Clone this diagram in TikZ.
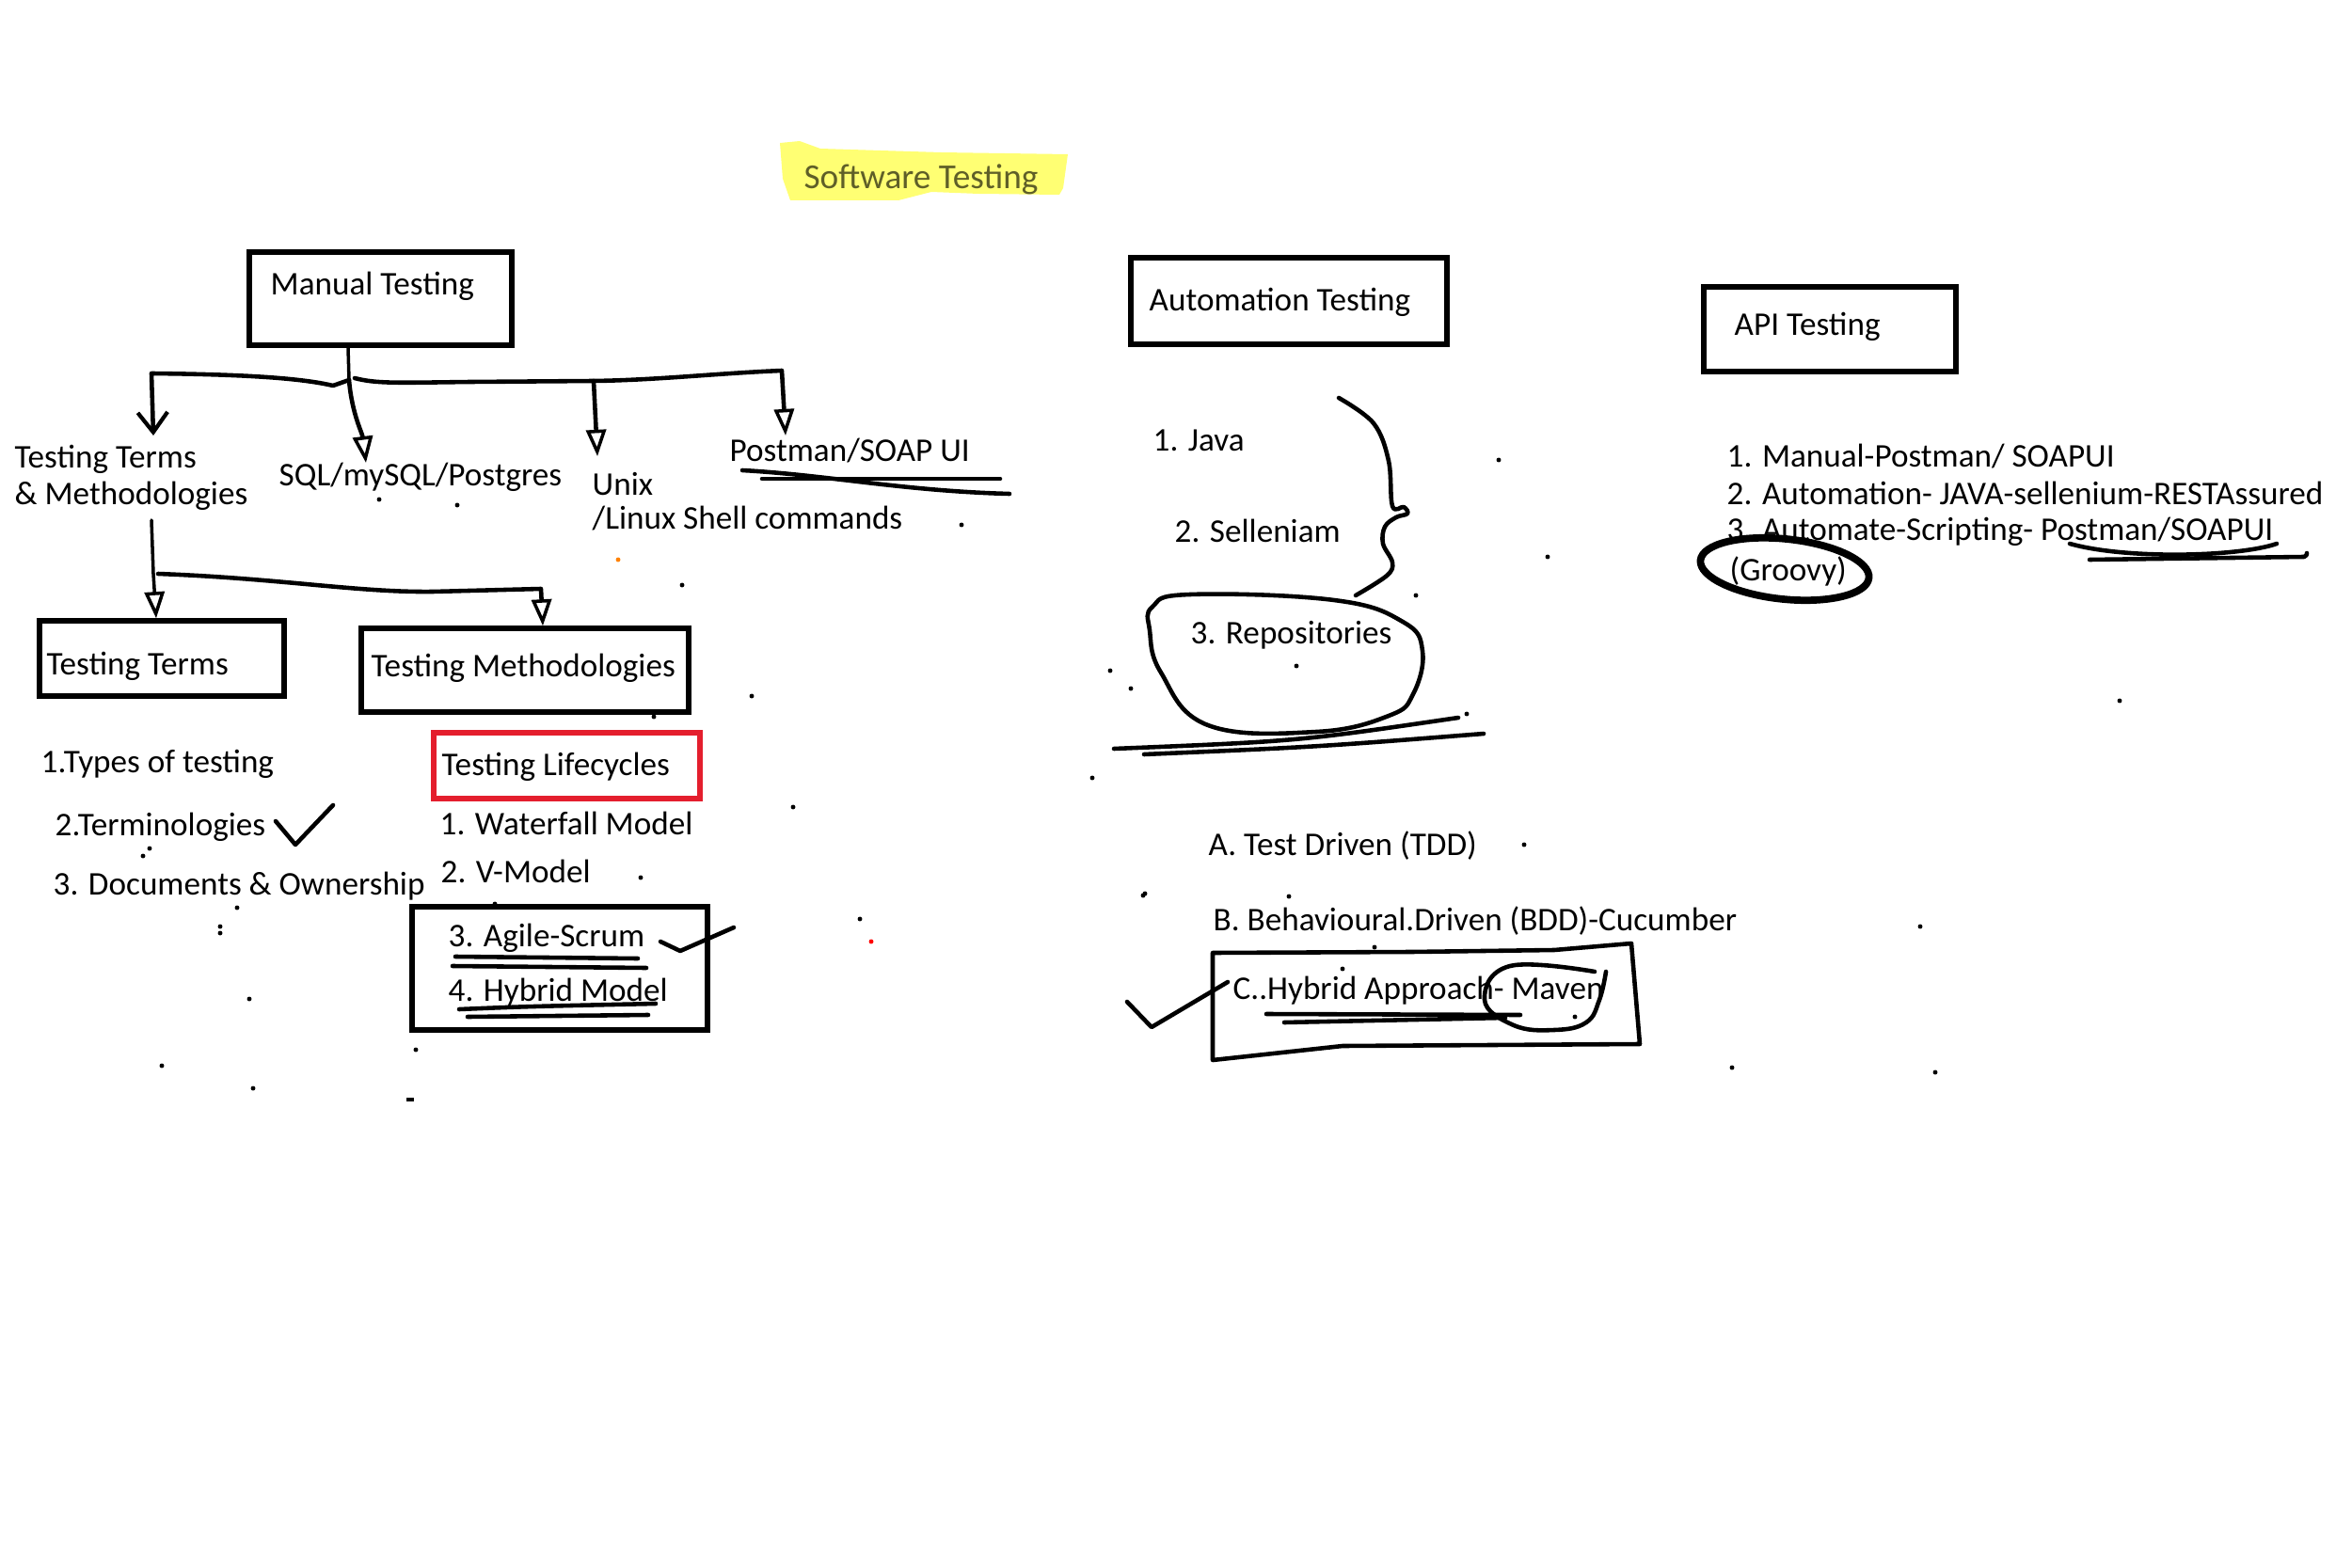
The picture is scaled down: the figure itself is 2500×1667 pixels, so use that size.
\documentclass[tikz,border=0pt]{standalone}
\usepackage{fontspec}
\setmainfont{Carlito}
\usetikzlibrary{arrows.meta}
\definecolor{hl}{RGB}{255,255,90}
\definecolor{olivetext}{RGB}{95,95,40}
\definecolor{redbox}{RGB}{228,30,45}
\begin{document}
\begin{tikzpicture}[x=0.01cm,y=-0.01cm,
  ink/.style={line width=1.3pt, line cap=round, line join=round},
  thin ink/.style={line width=1.0pt, line cap=round, line join=round},
  boxn/.style={draw, line width=1.5pt, inner sep=0pt},
  txt/.style={anchor=base west, inner sep=0pt, font=\fontsize{10}{12}\selectfont},
  opentip/.style={-{Triangle[open,length=8pt,width=6pt,line width=1pt]}},
  barbtip/.style={-{Straight Barb[length=6pt,width=9pt,line width=1.2pt]}},
  dotf/.style={fill=black}]
\useasboundingbox (0,0) rectangle (2500,1667);

% ---------- title ----------
\fill[hl, opacity=0.85] (829,152) -- (850,150) -- (872,158) -- (1000,162) -- (1135,164)
   -- (1130,200) -- (1126,207) -- (1040,206) -- (990,204) -- (955,213) -- (840,213) -- (832,190) -- cycle;
\node[anchor=center, inner sep=0pt, font=\fontsize{10.6}{12}\selectfont, text=olivetext] (title) at (979,191) {Software Testing};

% ---------- Manual testing ----------
\node[boxn, minimum width=2.79cm, minimum height=0.99cm] (manual) at (404.5,317.5) {};
\node[txt] (manualt) at (287,314) {Manual Testing};

\node[txt] (ttm1) at (15,498) {Testing Terms};
\node[txt] (ttm2) at (15,537) {\& Methodologies};
\node[txt] (sql) at (296,517) {SQL/mySQL/Postgres};
\node[txt] (unix) at (629,526) {Unix};
\node[txt] (linux) at (629,562) {/Linux Shell commands};
\node[txt] (postman) at (775,491) {Postman/SOAP UI};

\coordinate (trunk) at (370,367);
\coordinate (junc) at (371,404);
\coordinate (ttmtop) at (163,463);
\coordinate (sqltop) at (389,492);
\coordinate (unixtop) at (635,485);
\coordinate (posttop) at (835,463);

\draw[thin ink] (manual.south -| trunk) -- (junc);
\draw[ink, barbtip] (junc) -- (354,410) .. controls (320,402) and (260,398) .. (161,397) -- (ttmtop);
\draw[ink, opentip] (junc) .. controls (374,440) and (385,460) .. (sqltop);
\draw[ink, opentip] (377,402) .. controls (400,408) and (420,407) .. (500,406) -- (631,405) -- (unixtop);
\draw[ink, opentip] (631,405) .. controls (700,404) and (760,397) .. (831,394) -- (posttop);

% underlines Postman
\draw[ink] (789,500) .. controls (880,505) and (960,522) .. (1073,525);
\draw[ink] (810,509) -- (1063,509);

% ---------- Testing terms / methodologies ----------
\node[boxn, minimum width=2.60cm, minimum height=0.80cm] (tterms) at (172,700) {};
\node[txt] (ttermst) at (49,717) {Testing Terms};
\node[boxn, minimum width=3.48cm, minimum height=0.89cm] (tmeth) at (558,712.5) {};
\node[txt] (tmetht) at (394,719) {Testing Methodologies};

\coordinate (vbranch) at (168,610);
\draw[thin ink, opentip] (161,553) -- (163,610) -- (tterms.north -| 166,0);
\draw[ink, opentip] (vbranch) .. controls (300,615) and (380,630) .. (460,629) -- (575,626) -- (tmeth.north -| 577,0);

\node[txt] (types) at (43,821) {1.Types of testing};
\node[txt] (termin) at (58,888) {2.Terminologies};
\draw[ink] (293,873) -- (314,898) -- (354,856);
\node[txt] (docs) at (56,951) {3. Documents \& Ownership};

\node[draw=redbox, line width=1.5pt, inner sep=0pt, minimum width=2.83cm, minimum height=0.70cm] (lifec) at (602.5,814) {};
\node[txt] (lifect) at (469,824) {Testing Lifecycles};
\node[txt] (water) at (467,887) {1. Waterfall Model};
\node[txt] (vmod) at (468,938) {2. V-Model};
\node[boxn, minimum width=3.14cm, minimum height=1.31cm] (agilebox) at (595,1029.5) {};
\node[txt] (agile) at (476,1006) {3. Agile-Scrum};
\draw[ink] (484,1017) -- (678,1019);
\draw[ink] (481,1027) -- (687,1029);
\draw[ink] (702,1001) -- (723,1011) -- (780,986);
\node[txt] (hybridm) at (476,1064) {4. Hybrid Model};
\draw[ink] (488,1073) .. controls (560,1070) .. (697,1067);
\draw[ink] (497,1081) -- (689,1079);

% ---------- Automation testing ----------
\node[boxn, minimum width=3.36cm, minimum height=0.92cm] (auto) at (1370,320) {};
\node[txt] (autot) at (1221,331) {Automation Testing};
\node[txt] (java) at (1225,479) {1. Java};
\node[txt] (selen) at (1248,577) {2. Selleniam};
\draw[ink] plot[smooth, tension=0.6] coordinates {(1423,423) (1460,450) (1476,490) (1480,538) (1492,539) (1496,546) (1484,550) (1472,560) (1470,578) (1480,598) (1474,612) (1441,633)};
\draw[ink] plot[smooth cycle, tension=0.7] coordinates {(1225,645) (1265,632) (1418,638) (1491,661) (1512,692) (1502,738) (1476,761) (1399,778) (1284,771) (1234,715) (1222,670)};
\node[txt] (repo) at (1265,684) {3. Repositories};
\draw[ink] (1184,796) .. controls (1380,788) .. (1550,763);
\draw[ink] (1216,802) .. controls (1400,794) .. (1577,780);

\node[txt] (tdd) at (1284,909) {A. Test Driven (TDD)};
\node[txt] (bdd) at (1289,989) {B. Behavioural.Driven (BDD)-Cucumber};
\draw[ink] (1289,1013) -- (1500,1012) -- (1652,1010) -- (1734,1003) -- (1743,1110) -- (1427,1112) -- (1289,1127) -- cycle;
\node[txt] (hyb) at (1310,1062) {C..Hybrid Approach- Maven};
\draw[ink] plot[smooth, tension=0.7] coordinates {(1695,1033) (1605,1027) (1578,1063) (1609,1090) (1652,1095) (1686,1087) (1700,1063) (1707,1033)};
\draw[ink] (1346,1078) -- (1616,1079);
\draw[ink] (1365,1087) -- (1600,1082);
\draw[ink] (1198,1065) -- (1224,1092) -- (1305,1044);

% ---------- API testing ----------
\node[boxn, minimum width=2.68cm, minimum height=0.90cm] (api) at (1945,350) {};
\node[txt] (apit) at (1843,357) {API Testing};
\node[txt] (api1) at (1835,496) {1. Manual-Postman/ SOAPUI};
\node[txt] (api2) at (1835,536) {2. Automation- JAVA-sellenium-RESTAssured};
\node[txt] (api3) at (1835,574) {3. Automate-Scripting- Postman/SOAPUI};
\node[txt] (groovy) at (1838,617) {(Groovy)};
\draw[line width=2.2pt, rotate around={-6:(1897,605)}] (1897,605) ellipse [x radius=90, y radius=32];
\draw[ink] (2200,578) .. controls (2260,595) and (2380,592) .. (2420,578);
\draw[ink] (2221,595) -- (2449,592) .. controls (2452,590) .. (2452,588);

% ---------- stray dots ----------
\foreach \p in {(403,531),(486,537),(725,622),(1022,558),(1593,489),(1645,592),(1505,633),(1180,713),(1202,732),(1378,708),(1559,759),(1161,827),(799,740),(695,762),(843,858),(681,933),(914,977),(526,961),(159,902),(152,910),(234,985),(234,992),(252,965),(265,1062),(172,1133),(269,1157),(442,1116),(1620,898),(1215,952),(2041,985),(1841,1135),(2057,1140),(2253,745),(1674,1081),(1370,953),(1461,1007),(1427,1030),(1217,950)}
  \fill[dotf] \p circle[radius=0.7pt];
\fill[orange] (657,595) circle[radius=0.7pt];
\fill[red] (926,1001) circle[radius=0.7pt];
\fill[black] (432,1167) rectangle (440,1171);
\end{tikzpicture}
\end{document}
